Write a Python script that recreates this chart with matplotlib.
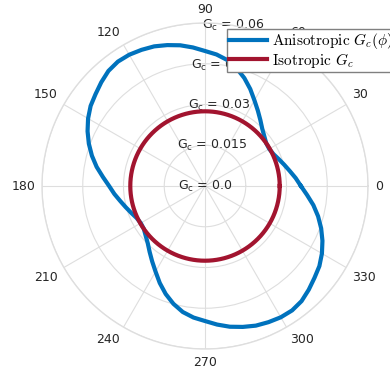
import numpy as np
import matplotlib
matplotlib.use("Agg")
import matplotlib.pyplot as plt

# fracture toughness vs. crack direction (deg), one half-turn; G_c(phi) = G_c(phi + 180)
phi_half = np.arange(0, 180, 5)
gc_aniso_half = [
    0.0353, 0.0335, 0.0317, 0.0302, 0.0289, 0.0278, 0.0273, 0.0275, 0.0285,
    0.0298, 0.0317, 0.0339, 0.0364, 0.0394, 0.0423, 0.0449, 0.0471, 0.0486,
    0.0497, 0.0512, 0.0526, 0.0537, 0.0547, 0.0553, 0.0558, 0.0559, 0.0553,
    0.0540, 0.0526, 0.0514, 0.0497, 0.0477, 0.0455, 0.0431, 0.0405, 0.0377,
]
gc_iso = 0.0275

r_ticks = [0.0, 0.015, 0.03, 0.045, 0.06]
theta_ticks = [0, 30, 60, 90, 120, 150, 180, 210, 240, 270, 300, 330]

blue = "#0072BD"
red = "#A2142F"
grid_c = "#dedede"
text_c = "#262626"

fig = plt.figure(figsize=(3.9, 3.76), dpi=100)
ax = fig.add_axes([0.1077, 0.0718, 0.8359, 0.867], projection="polar")

phi = np.deg2rad(np.concatenate([phi_half, phi_half + 180, [360]]))
gc = np.concatenate([gc_aniso_half, gc_aniso_half, gc_aniso_half[:1]])
ax.plot(phi, gc, color=blue, lw=3, solid_joinstyle="round",
        label=r"Anisotropic $G_c(\phi)$")

circ = np.linspace(0, 2 * np.pi, 361)
ax.plot(circ, np.full_like(circ, gc_iso), color=red, lw=3, label=r"Isotropic $G_c$")

# radial axis
ax.set_ylim(0, r_ticks[-1])
ax.set_yticks(r_ticks)
ax.set_yticklabels([r"G$_{\rm c}$ = " + str(v) for v in r_ticks])
ax.set_rlabel_position(80)
for lab in ax.get_yticklabels():
    lab.set_ha("center")
    lab.set_va("center")
ax.tick_params(axis="y", labelsize=9, colors=text_c, length=0)

# angular axis: labels pushed outward, aligned away from the rim
ax.set_thetagrids(theta_ticks, [""] * len(theta_ticks))
pad = 5.0
for t in theta_ticks:
    c, s = np.cos(np.deg2rad(t)), np.sin(np.deg2rad(t))
    ha = "left" if c > 0.1 else ("right" if c < -0.1 else "center")
    va = "bottom" if s > 0.1 else ("top" if s < -0.1 else "center")
    ax.annotate(str(t), xy=(np.deg2rad(t), r_ticks[-1]), xytext=(pad * c, pad * s),
                textcoords="offset points", ha=ha, va=va, fontsize=9,
                color=text_c, annotation_clip=False)

ax.grid(True, color=grid_c, lw=0.8)
ax.spines["polar"].set_color(grid_c)
ax.spines["polar"].set_linewidth(1.0)

leg = ax.legend(
    loc="upper left",
    bbox_to_anchor=(226.7 / 390, 1 - 29 / 376),
    bbox_transform=fig.transFigure,
    borderaxespad=0,
    prop={"family": "cmr10", "size": 11, "math_fontfamily": "cm"},
    handlelength=2.5,
    handletextpad=0.3,
    borderpad=0.15,
    labelspacing=-0.05,
    fancybox=False,
    framealpha=1.0,
    edgecolor="#808080",
)
leg.set_zorder(5)
leg.get_frame().set_linewidth(1.0)

fig.savefig("out.png", dpi=100)
